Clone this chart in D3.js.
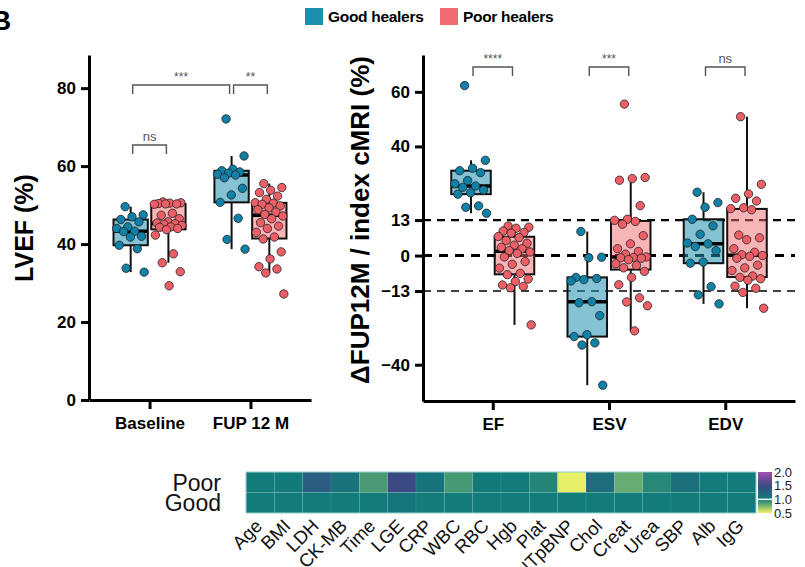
<!DOCTYPE html>
<html>
<head>
<meta charset="utf-8">
<script src="https://cdn.jsdelivr.net/npm/d3@7/dist/d3.min.js"></script>
<style>
  body { margin: 0; background: #fff; }
  svg { display: block; font-family: "Liberation Sans", Arial, sans-serif; }
</style>
</head>
<body>
<svg id="chart" width="805" height="567"></svg>
<script>
// LVEF panel
const lvefGroups = ["Baseline", "FUP 12 M"];
const lvefTicks = [0, 20, 40, 60, 80];
const lvefBaselineGood = [49.6, 47.5, 47.0, 46.3, 45.7, 44.4, 44.0, 43.3, 43.2, 42.0, 41.8, 39.7, 38.8, 33.8, 32.8];
const lvefBaselinePoor = [50.8, 50.6, 50.5, 50.4, 50.3, 50.3, 50.2, 47.9, 47.4, 46.5, 45.7, 45.4, 45.2, 45.1,
  44.8, 44.4, 44.3, 44.0, 43.7, 42.3, 37.5, 35.2, 32.9, 29.3];
const lvefFupGood = [72.1, 62.6, 59.2, 58.8, 58.5, 58.2, 57.9, 57.7, 57.0, 54.3, 52.6, 50.7, 46.6, 41.2, 38.7];
const lvefFupPoor = [55.5, 54.5, 53.8, 53.2, 52.3, 51.5, 50.6, 50.5, 50.2, 49.8, 49.3, 48.8, 48.2, 47.6,
  47.2, 46.5, 45.5, 44.6, 44.0, 43.0, 41.8, 41.3, 38.0, 36.2, 34.2, 33.6, 32.6, 27.2];
const lvefSig = [
  {a: ["Baseline", 0], b: ["FUP 12 M", 0], at: 80.8, label: "***"},
  {a: ["FUP 12 M", 0], b: ["FUP 12 M", 1], at: 80.8, label: "**"},
  {a: ["Baseline", 0], b: ["Baseline", 1], at: 65.4, label: "ns"}
];

// change FUP12M vs index cMRI panel
const cmriGroups = ["EF", "ESV", "EDV"];
const cmriTicks = [-40, -13, 0, 13, 40, 60];
const cmriRefLines = [13, 0, -13];
const efGood = [62.3, 34.9, 32.0, 31.1, 30.4, 27.5, 26.3, 25.5, 25.0, 24.0, 23.0, 22.5, 18.2, 17.7, 15.5];
const efPoor = [10.8, 10.4, 10.0, 9.0, 8.5, 8.2, 7.0, 6.6, 5.5, 4.5, 3.8, 3.0, 2.5, 1.8,
  1.3, 0.8, -0.5, -2.2, -3.2, -4.6, -6.5, -7.0, -8.6, -9.5, -10.8, -11.3, -11.8, -25.4];
const esvGood = [8.8, -0.6, -0.8, -8.0, -8.4, -8.8, -9.3, -16.9, -17.3, -22.0, -29.0, -29.7, -32.0, -32.8, -47.5];
const esvPoor = [55.5, 28.6, 28.2, 27.6, 18.3, 13.3, 12.9, 12.5, 11.5, 7.3, 4.3, 2.5, 1.5, 0.5, -0.5,
  -0.7, -0.8, -1.0, -1.5, -3.0, -3.6, -4.5, -5.8, -8.0, -10.7, -15.5, -17.0, -18.4, -27.6];
const edvGood = [23.2, 19.4, 17.7, 13.3, 10.9, 7.8, 4.6, 4.3, 3.3, 1.8, -2.4, -2.8, -11.4, -14.4, -17.7];
const edvPoor = [50.9, 26.1, 22.6, 21.0, 20.0, 17.5, 17.2, 16.8, 7.5, 6.5, 5.8, 2.5, 1.2, 0.3,
  0.0, -0.3, -1.0, -3.5, -4.5, -5.5, -7.5, -8.0, -8.5, -9.0, -11.2, -12.0, -13.5, -19.3];
const cmriSig = [
  {a: ["EF", 0], b: ["EF", 1], at: 69.1, label: "****"},
  {a: ["ESV", 0], b: ["ESV", 1], at: 69.1, label: "***"},
  {a: ["EDV", 0], b: ["EDV", 1], at: 69.1, label: "ns"}
];

// heatmap (ratio to reference)
const heatLabels = ["Age", "BMI", "LDH", "CK-MB", "Time", "LGE", "CRP", "WBC", "RBC", "Hgb", "Plat",
  "NTpBNP", "Chol", "Creat", "Urea", "SBP", "Alb", "IgG"];
const heatRows = ["Poor", "Good"];
const heatPoor = [1.0, 1.02, 1.3, 1.1, 0.87, 1.5, 1.08, 0.88, 1.02, 1.0, 0.96, 0.52, 1.15, 0.8, 0.95, 1.12, 1.0, 1.0];
const heatGood = [1.0, 1.0, 1.0, 1.0, 1.0, 1.05, 1.0, 1.0, 1.0, 1.0, 1.0, 1.0, 1.0, 1.0, 1.0, 1.0, 1.0, 1.0];
const colorbarTicks = [0.5, 1.0, 1.5, 2.0];

const legendItems = ["Good healers", "Poor healers"];

const fills = ["#1f8fb0", "#ef6b71"];
const pointColors = ["#0f80a6", "#ec5f66"];

const svg = d3.select("#chart");

// GraphPad-style quartiles, (n+1)p
function quant(s, p) {
  const pos = (s.length + 1) * p;
  const lo = Math.floor(pos);
  if (lo < 1) return s[0];
  if (lo >= s.length) return s[s.length - 1];
  return s[lo - 1] + (pos - lo) * (s[lo] - s[lo - 1]);
}

function boxStats(vals) {
  const s = vals.slice().sort(d3.ascending);
  const q1 = quant(s, 0.25), med = quant(s, 0.5), q3 = quant(s, 0.75);
  const iqr = q3 - q1;
  return {
    q1, med, q3,
    lo: d3.min(s.filter(v => v >= q1 - 1.5 * iqr)),
    hi: d3.max(s.filter(v => v <= q3 + 1.5 * iqr))
  };
}

function styleAxis(g) {
  g.select(".domain").attr("stroke", "#000").attr("stroke-width", 3);
  g.selectAll(".tick line").attr("stroke", "#000").attr("stroke-width", 3);
  g.selectAll(".tick text").attr("fill", "#000").style("font-size", "17px").style("font-weight", "bold");
}

function drawPanel(opts) {
  const {x, y, groups, series, ticks, tickFormat, sig, refLines} = opts;
  const step = x.step();
  const bw = step * 0.34;
  const off = step * 0.187;
  const cx = (grp, k) => x(grp) + (k === 0 ? -off : off);

  const yAxis = d3.axisLeft(y).tickValues(ticks).tickSize(8).tickPadding(5).tickSizeOuter(0);
  if (tickFormat) yAxis.tickFormat(tickFormat);
  svg.append("g").attr("transform", `translate(${x.range()[0]},0)`).call(yAxis).call(styleAxis);

  const xAxis = d3.axisBottom(x).tickSize(9).tickPadding(8).tickSizeOuter(0);
  svg.append("g").attr("transform", `translate(0,${y.range()[0]})`).call(xAxis).call(styleAxis);

  if (refLines) {
    svg.append("g").selectAll("line").data(refLines).join("line")
      .attr("x1", x.range()[0]).attr("x2", x.range()[1])
      .attr("y1", d => y(d)).attr("y2", d => y(d))
      .attr("stroke", "#000")
      .attr("stroke-width", d => d === 0 ? 3 : (d > 0 ? 2.2 : 1.6))
      .attr("stroke-dasharray", d => d === 0 ? "9,7" : "8,6");
  }

  groups.forEach((grp, gi) => {
    series[gi].forEach((vals, k) => {
      const st = boxStats(vals);
      const c = cx(grp, k);
      const g = svg.append("g");
      g.append("line").attr("x1", c).attr("x2", c).attr("y1", y(st.hi)).attr("y2", y(st.q3))
        .attr("stroke", "#111").attr("stroke-width", 2);
      g.append("line").attr("x1", c).attr("x2", c).attr("y1", y(st.q1)).attr("y2", y(st.lo))
        .attr("stroke", "#111").attr("stroke-width", 2);
      g.append("rect").attr("x", c - bw / 2).attr("width", bw)
        .attr("y", y(st.q3)).attr("height", y(st.q1) - y(st.q3))
        .attr("fill", fills[k]).attr("fill-opacity", k === 0 ? 0.55 : 0.5)
        .attr("stroke", "#111").attr("stroke-width", 2);
      g.append("line").attr("x1", c - bw / 2).attr("x2", c + bw / 2)
        .attr("y1", y(st.med)).attr("y2", y(st.med))
        .attr("stroke", "#000").attr("stroke-width", 3.5);
      // deterministic spread of the points over the box width
      g.selectAll("circle").data(vals).join("circle")
        .attr("cx", (d, i) => c + (((i * 0.618034 + 0.31) % 1) - 0.5) * bw * 0.85)
        .attr("cy", d => y(d))
        .attr("r", 4.2)
        .attr("fill", pointColors[k])
        .attr("stroke", "#222").attr("stroke-width", 0.8);
    });
  });

  sig.forEach(s => {
    const x1 = cx(s.a[0], s.a[1]) + 2, x2 = cx(s.b[0], s.b[1]) - 2, yy = y(s.at);
    svg.append("path")
      .attr("d", `M${x1},${yy + 9}V${yy}H${x2}V${yy + 9}`)
      .attr("fill", "none").attr("stroke", "#555").attr("stroke-width", 1.4);
    svg.append("text").attr("x", (x1 + x2) / 2).attr("y", yy - 4)
      .attr("text-anchor", "middle").attr("fill", "#555")
      .style("font-size", s.label === "ns" ? "13px" : "12px").text(s.label);
  });
}

// panel label (cropped)
svg.append("text").attr("x", -9).attr("y", 30).style("font-size", "28px").style("font-weight", "bold").text("B");

// legend
legendItems.forEach((t, i) => {
  const lx = [305, 440][i];
  svg.append("rect").attr("x", lx).attr("y", 8).attr("width", 18).attr("height", 17).attr("fill", fills[i]);
  svg.append("text").attr("x", lx + 23).attr("y", 22).style("font-size", "15.5px").style("font-weight", "bold")
    .style("letter-spacing", "-0.3px").text(t);
});

// left panel
const xL = d3.scalePoint().domain(lvefGroups).range([89, 311]).padding(0.6);
const yL = d3.scaleLinear().domain([0, 88.5]).range([400, 55]);
drawPanel({
  x: xL, y: yL, groups: lvefGroups,
  series: [[lvefBaselineGood, lvefBaselinePoor], [lvefFupGood, lvefFupPoor]],
  ticks: lvefTicks, sig: lvefSig
});
svg.append("text").attr("transform", "translate(33,228) rotate(-90)").attr("text-anchor", "middle")
  .style("font-size", "25px").style("font-weight", "bold").text("LVEF (%)");

// right panel
const xR = d3.scalePoint().domain(cmriGroups).range([423, 795]).padding(0.6);
const yR = d3.scaleLinear().domain([-53.3, 73.5]).range([401, 55]);
drawPanel({
  x: xR, y: yR, groups: cmriGroups,
  series: [[efGood, efPoor], [esvGood, esvPoor], [edvGood, edvPoor]],
  ticks: cmriTicks, tickFormat: d => d < 0 ? "\u2212" + Math.abs(d) : d, sig: cmriSig, refLines: cmriRefLines
});
svg.append("text").attr("transform", "translate(369,220) rotate(-90)").attr("text-anchor", "middle")
  .style("font-size", "26px").style("font-weight", "bold").text("\u0394FUP12M / index cMRI (%)");

// heatmap
const color = d3.scaleLinear().domain([0.5, 1.0, 1.5, 2.0])
  .range(["#eef466", "#117c7a", "#3c4a84", "#a64db4"]);
const hx = d3.scaleBand().domain(heatLabels).range([246, 756]);
const hy = d3.scaleBand().domain(heatRows).range([472, 513]);
const heat = svg.append("g");
[heatPoor, heatGood].forEach((row, ri) => {
  heat.selectAll(null).data(row).join("rect")
    .attr("x", (d, i) => hx(heatLabels[i])).attr("width", hx.bandwidth())
    .attr("y", hy(heatRows[ri])).attr("height", hy.bandwidth())
    .attr("fill", d => color(d))
    .attr("stroke", "rgba(255,255,255,0.12)").attr("stroke-width", 0.6);
});
heat.append("rect").attr("x", 246).attr("y", 472).attr("width", 510).attr("height", 41)
  .attr("fill", "none").attr("stroke", "#8fcfcc").attr("stroke-width", 1);
heat.selectAll("text.row").data(heatRows).join("text").attr("class", "row")
  .attr("x", 221).attr("y", d => hy(d) + hy.bandwidth() - 2)
  .attr("text-anchor", "end").style("font-size", "23px").attr("fill", "#111").text(d => d);
heat.selectAll("text.col").data(heatLabels).join("text").attr("class", "col")
  .attr("transform", d => `translate(${hx(d) + hx.bandwidth() / 2 - 6},${518}) rotate(-45)`)
  .attr("text-anchor", "end").attr("dy", "0.7em")
  .style("font-size", "18.5px").attr("fill", "#111").text(d => d);

// colorbar
const cb = d3.scaleLinear().domain([0.5, 2.0]).range([513, 472]);
const grad = svg.append("defs").append("linearGradient").attr("id", "cbar")
  .attr("x1", 0).attr("y1", 1).attr("x2", 0).attr("y2", 0);
d3.range(0, 1.0001, 0.05).forEach(t => {
  grad.append("stop").attr("offset", t).attr("stop-color", color(0.5 + 1.5 * t));
});
svg.append("rect").attr("x", 758).attr("y", 472).attr("width", 14).attr("height", 41).attr("fill", "url(#cbar)");
svg.append("line").attr("x1", 758).attr("x2", 772).attr("y1", cb(1.0)).attr("y2", cb(1.0))
  .attr("stroke", "#fff").attr("stroke-width", 1.5);
svg.selectAll("text.cb").data(colorbarTicks).join("text").attr("class", "cb")
  .attr("x", 774).attr("y", d => cb(d)).attr("dy", "0.36em")
  .style("font-size", "13px").attr("fill", "#222").text(d => d.toFixed(1));
</script>
</body>
</html>
